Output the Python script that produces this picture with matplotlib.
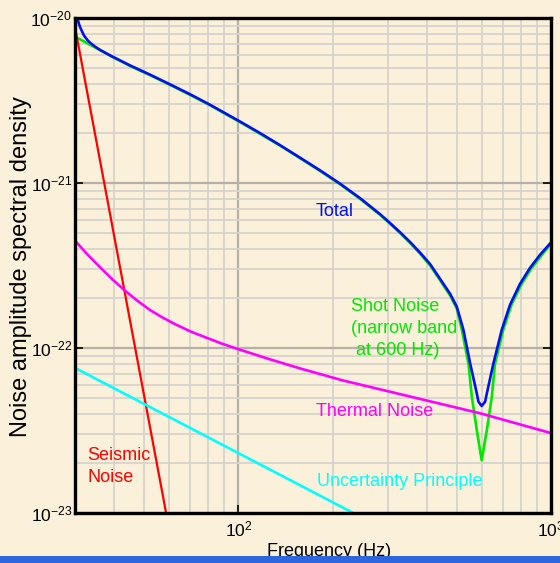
import numpy as np
import matplotlib
matplotlib.use('Agg')
import matplotlib.pyplot as plt
from matplotlib.patches import Rectangle

# noise curves (frequency in Hz, amplitude spectral density)
f_total = [30.0, 30.53, 30.89, 31.28, 32.05, 32.86, 33.67, 34.92, 36.24, 39.0, 45.19, 52.34, 60.6,
           70.25, 81.37, 94.28, 101.5, 117.6, 136.2, 157.8, 182.8, 211.8, 245.3, 284.2, 305.9,
           329.3, 354.4, 381.5, 410.6, 441.9, 475.6, 499.6, 524.5, 551.1, 578.9, 585.9, 600,
           615.5, 623.4, 654.4, 695.9, 739.6, 796.2, 856.9, 922.3, 1000]
v_total = [1.057e-20, 9.96e-21, 9.20e-21, 8.64e-21, 7.83e-21, 7.36e-21, 7.03e-21, 6.67e-21, 6.37e-21,
           5.91e-21, 5.14e-21, 4.52e-21, 3.95e-21, 3.44e-21, 2.97e-21, 2.54e-21, 2.35e-21, 2.00e-21,
           1.69e-21, 1.42e-21, 1.19e-21, 9.88e-22, 8.08e-22, 6.46e-22, 5.71e-22, 5.02e-22, 4.38e-22,
           3.78e-22, 3.22e-22, 2.62e-22, 2.13e-22, 1.78e-22, 1.29e-22, 8.08e-23, 5.31e-23, 4.73e-23,
           4.45e-23, 4.73e-23, 5.31e-23, 8.08e-23, 1.29e-22, 1.83e-22, 2.45e-22, 3.06e-22, 3.67e-22,
           4.36e-22]

f_shot = [30, 32.86, 34.92, 37.12, 39.0, 45.19, 52.34, 60.6, 70.25, 81.37, 94.28, 101.5, 117.6,
          136.2, 157.8, 182.8, 211.8, 245.3, 284.2, 305.9, 329.3, 354.4, 381.5, 410.6, 441.9,
          475.6, 499.6, 518.4, 544.6, 558.1, 578.9, 600, 623.4, 646.6, 661.9, 703.6, 747.7,
          805.0, 866.3, 932.4, 1000]
v_shot = [7.70e-21, 7.03e-21, 6.60e-21, 6.23e-21, 5.89e-21, 5.10e-21, 4.49e-21, 3.92e-21, 3.41e-21,
          2.95e-21, 2.52e-21, 2.33e-21, 1.98e-21, 1.68e-21, 1.41e-21, 1.18e-21, 9.80e-22, 8.00e-22,
          6.40e-22, 5.65e-22, 4.96e-22, 4.32e-22, 3.72e-22, 3.16e-22, 2.57e-22, 2.08e-22, 1.73e-22,
          1.29e-22, 8.00e-23, 5.07e-23, 3.18e-23, 2.09e-23, 3.18e-23, 5.07e-23, 8.00e-23, 1.29e-22,
          1.83e-22, 2.44e-22, 3.04e-22, 3.64e-22, 4.30e-22]

f_thermal = [30, 32.93, 36.24, 39.57, 43.55, 47.56, 52.34, 57.18, 62.91, 70.25, 78.44, 88.88,
             101.5, 126.6, 157.8, 216.5, 593.3, 1000]
v_thermal = [4.47e-22, 3.68e-22, 3.06e-22, 2.60e-22, 2.21e-22, 1.93e-22, 1.69e-22, 1.53e-22,
             1.39e-22, 1.26e-22, 1.16e-22, 1.06e-22, 9.74e-23, 8.52e-23, 7.51e-23, 6.35e-23,
             4.02e-23, 3.05e-23]

f_seismic = [30, 58.7]
v_seismic = [8.8e-21, 1.0e-23]

f_uncert = [30, 233]
v_uncert = [7.57e-23, 1.0e-23]

fam = ['Liberation Sans', 'DejaVu Sans']
plt.rcParams['font.family'] = fam
plt.rcParams['mathtext.fontset'] = 'custom'
plt.rcParams['mathtext.rm'] = 'Liberation Sans'
plt.rcParams['mathtext.it'] = 'Liberation Sans'
plt.rcParams['mathtext.default'] = 'regular'

lab_fs = 13
tick_fs = 12.5

bg = '#FBF0D9'
fig = plt.figure(figsize=(5.6, 5.63), dpi=100, facecolor=bg)
ax = fig.add_axes([75/560, 1-513/563, (551-75)/560, (513-18)/563])
ax.set_facecolor(bg)

ax.set_xscale('log')
ax.set_yscale('log')
ax.set_xlim(30, 1000)
ax.set_ylim(1e-23, 1e-20)

ax.grid(True, which='minor', color='#D8D4CC', lw=1.3, zorder=0)
ax.grid(True, which='major', color='#B5B1AA', lw=1.6, zorder=0)
ax.set_axisbelow(True)

ax.plot(f_shot, v_shot, color='#00E800', lw=1.9, zorder=3)
ax.plot(f_total, v_total, color='#0010F0', lw=1.9, zorder=4)
ax.plot(f_seismic, v_seismic, color='#FF0000', lw=1.6, zorder=3)
ax.plot(f_thermal, v_thermal, color='#FF00FF', lw=1.9, zorder=3)
ax.plot(f_uncert, v_uncert, color='#00FFFF', lw=1.9, zorder=3)

for s in ax.spines.values():
    s.set_linewidth(2.4)
    s.set_color('black')
    s.set_zorder(5)

ax.tick_params(which='major', direction='in', length=6, width=1.2, labelsize=tick_fs, pad=2,
               right=True, top=False)
ax.tick_params(axis='x', which='major', pad=5)
ax.tick_params(which='minor', length=0)
ax.set_xticks([100, 1000])
ax.set_xticklabels(['$10^2$', '$10^3$'])
ax.set_yticks([1e-23, 1e-22, 1e-21, 1e-20])
ax.set_yticklabels(['$10^{-23}$', '$10^{-22}$', '$10^{-21}$', '$10^{-20}$'])

ax.text(176, 6.76e-22, 'Total', color='#0010F0', fontsize=lab_fs, ha='left', va='center')
ax.text(229.6, 2.0e-22, 'Shot Noise\n(narrow band\n at 600 Hz)', color='#00E800',
        fontsize=lab_fs, ha='left', va='top', linespacing=1.38)
ax.text(177.5, 4.11e-23, 'Thermal Noise', color='#FF00FF', fontsize=lab_fs, ha='left', va='center')
ax.text(178, 1.55e-23, 'Uncertainty Principle', color='#00FFFF', fontsize=lab_fs, ha='left', va='center')
ax.text(32.8, 2.5e-23, 'Seismic\nNoise', color='#FF0000', fontsize=lab_fs, ha='left', va='top',
        linespacing=1.38)

fig.text(21/560, 1-267/563, 'Noise amplitude spectral density', rotation=90, ha='center', va='center',
         fontsize=17)
fig.text(329/560, (563-556)/563, 'Frequency (Hz)', ha='center', va='baseline', fontsize=lab_fs)

# blue strip at the bottom
fig.patches.append(Rectangle((0, 0), 1, 7/563, transform=fig.transFigure, facecolor='#2E66E0',
                             edgecolor='none', zorder=10))

fig.savefig('out.png', dpi=100, facecolor=bg)
